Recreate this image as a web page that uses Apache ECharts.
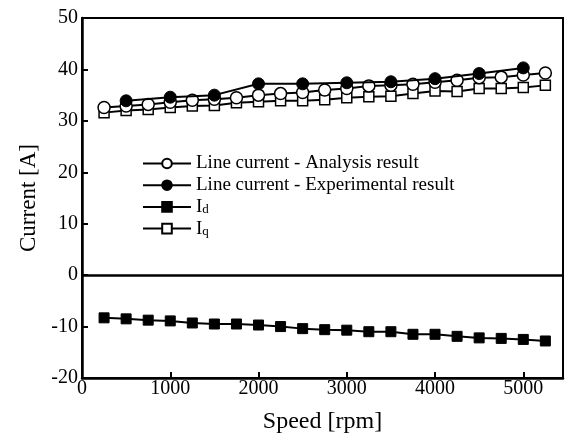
<!DOCTYPE html>
<html>
<head>
<meta charset="utf-8">
<script src="https://cdn.jsdelivr.net/npm/echarts@6/dist/echarts.min.js"></script>
<style>html,body{margin:0;padding:0;background:#fff}#c{width:571px;height:443px}</style>
</head>
<body>
<div id="c"></div>
<script>
var speeds = [250,500,750,1000,1250,1500,1750,2000,2250,2500,2750,3000,3250,3500,3750,4000,4250,4500,4750,5000,5250];
var expSpeeds = [500,1000,1500,2000,2500,3000,3500,4000,4500,5000];
var analysis = [32.6,32.9,33.2,33.6,34.0,34.2,34.5,35.0,35.3,35.5,36.0,36.3,36.8,36.9,37.1,37.5,37.9,38.4,38.5,38.9,39.3];
var experimental = [33.9,34.6,35.0,37.2,37.2,37.4,37.6,38.2,39.2,40.3];
var idVals = [-8.3,-8.5,-8.75,-8.9,-9.3,-9.5,-9.5,-9.7,-10.0,-10.4,-10.6,-10.7,-11.0,-11.0,-11.5,-11.5,-11.9,-12.2,-12.3,-12.5,-12.8];
var iqVals = [31.6,32.0,32.2,32.6,32.9,33.0,33.5,33.7,33.9,33.9,34.1,34.5,34.7,34.8,35.3,35.8,35.7,36.3,36.3,36.5,36.9];
var xTicks = [0,1000,2000,3000,4000,5000];
var yTicks = [-20,-10,0,10,20,30,40,50];
var seriesNames = ['Line current - Analysis result','Line current - Experimental result','Id','Iq'];

function pairs(xs, ys){ return xs.map(function(x,i){ return [x, ys[i]]; }); }
var F = 'Liberation Serif';
var lineStyle = {color:'#000', width:2};
var chart = echarts.init(document.getElementById('c'), null, {renderer:'canvas'});
chart.setOption({
  animation:false,
  backgroundColor:'#fff',
  grid:{left:82,right:8,top:18,bottom:65,show:true,borderColor:'#000',borderWidth:2,backgroundColor:'transparent'},
  legend:{
    data:seriesNames,
    orient:'vertical', left:137, top:149,
    itemWidth:48, itemHeight:12, itemGap:2.7,
    textStyle:{fontFamily:F,fontSize:19,lineHeight:18,color:'#000',
      rich:{m:{fontFamily:F,fontSize:19,lineHeight:18,color:'#000'},
            s:{fontFamily:F,fontSize:13,lineHeight:11,color:'#000',verticalAlign:'bottom'}}},
    formatter:function(n){ if(n==='Id') return '{m|I}{s|d}'; if(n==='Iq') return '{m|I}{s|q}'; return n; }
  },
  xAxis:{
    type:'value', min:0, max:5450, interval:1000,
    name:'Speed [rpm]', nameLocation:'middle', nameGap:32,
    nameTextStyle:{fontFamily:F,fontSize:24,color:'#000'},
    axisLine:{show:true,onZero:false,lineStyle:{color:'#000',width:2.5}},
    axisTick:{show:true,inside:true,length:6,lineStyle:{color:'#000',width:2}},
    axisLabel:{fontFamily:F,fontSize:20,color:'#000',margin:1,showMaxLabel:false,
      formatter:function(v){ return xTicks.indexOf(v)>=0 ? String(v) : ''; }},
    splitLine:{show:false}
  },
  yAxis:{
    type:'value', min:-20, max:50, interval:10,
    name:'Current [A]', nameLocation:'middle', nameGap:41,
    nameTextStyle:{fontFamily:F,fontSize:23,color:'#000'},
    axisLine:{show:true,onZero:false,lineStyle:{color:'#000',width:2.5}},
    axisTick:{show:true,inside:true,length:6,lineStyle:{color:'#000',width:2}},
    axisLabel:{fontFamily:F,fontSize:20,color:'#000',margin:4,
      formatter:function(v){ return yTicks.indexOf(v)>=0 ? String(v) : ''; }},
    splitLine:{show:false}
  },
  series:[
    {name:'Iq',type:'line',data:pairs(speeds,iqVals),symbol:'rect',symbolSize:10,showAllSymbol:true,
      itemStyle:{color:'#fff',borderColor:'#000',borderWidth:1.5},lineStyle:lineStyle,z:2},
    {name:'Line current - Analysis result',type:'line',data:pairs(speeds,analysis),symbol:'circle',symbolSize:12,showAllSymbol:true,
      itemStyle:{color:'#fff',borderColor:'#000',borderWidth:1.5},lineStyle:lineStyle,z:3},
    {name:'Id',type:'line',data:pairs(speeds,idVals),symbol:'rect',symbolSize:10,showAllSymbol:true,
      itemStyle:{color:'#000',borderColor:'#000',borderWidth:1},lineStyle:lineStyle,z:3,
      markLine:{silent:true,symbol:'none',label:{show:false},lineStyle:{color:'#000',width:2.5,type:'solid'},data:[{yAxis:0}]}},
    {name:'Line current - Experimental result',type:'line',data:pairs(expSpeeds,experimental),symbol:'circle',symbolSize:12,showAllSymbol:true,
      itemStyle:{color:'#000',borderColor:'#000',borderWidth:1},lineStyle:lineStyle,z:4}
  ]
});
</script>
</body>
</html>
